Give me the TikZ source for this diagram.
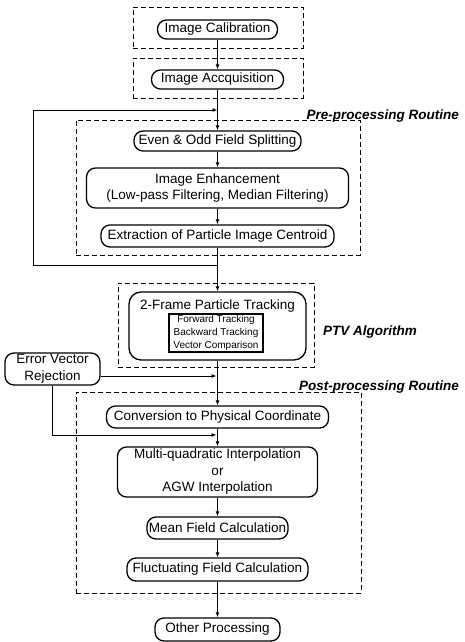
\documentclass[tikz,border=0pt]{standalone}
\usepackage{fontspec}
\setmainfont{Liberation Sans}
\usetikzlibrary{arrows.meta}
\newcommand{\mfs}{\fontsize{13.5}{16.5}\selectfont}
\newcommand{\sfs}{\fontsize{10}{13}\selectfont}
\tikzset{
  proc/.style={draw, line width=1.3pt, rounded corners=9pt, inner sep=0pt, align=center, font=\mfs},
  frame/.style={draw, dash pattern=on 5pt off 3pt, line width=0.9pt, inner sep=0pt},
  inbox/.style={draw, line width=1.3pt, inner sep=0pt, align=center, font=\sfs},
  arr/.style={line width=1pt, -{Latex[length=5pt,width=4pt]}},
  lab/.style={font=\mfs\bfseries\itshape, inner sep=0pt},
  txt/.style={font=\mfs, inner sep=0pt}
}
\begin{document}
\begin{tikzpicture}[x=1pt,y=-1pt]
\useasboundingbox[fill=white] (0,0) rectangle (465,642);
% dashed frames
\node[frame, minimum width=170, minimum height=41] (fr1) at (218,27.5) {};
\node[frame, minimum width=170, minimum height=40] (fr2) at (218,78) {};
\node[frame, minimum width=284, minimum height=135] (frpre) at (218,187.5) {};
\node[frame, minimum width=196, minimum height=84] (frptv) at (216,325) {};
\node[frame, minimum width=285, minimum height=201] (frpost) at (218.5,492.5) {};
% labels
\node[lab, anchor=base east] (lpre) at (459,119.5) {Pre-processing Routine};
\node[lab, anchor=west] (lptv) at (323,332) {PTV Algorithm};
\node[lab, anchor=base east] (lpost) at (459,390.5) {Post-processing Routine};
% process nodes
\node[proc, minimum width=120, minimum height=19] (calib) at (217.5,29.5) {Image Calibration};
\node[proc, minimum width=132, minimum height=19] (acq) at (217.5,79.5) {Image Accquisition};
\node[proc, minimum width=167, minimum height=20] (even) at (217.5,141) {Even \& Odd Field Splitting};
\node[proc, minimum width=262, minimum height=40] (enh) at (217.5,188) {Image Enhancement\\(Low-pass Filtering, Median Filtering)};
\node[proc, minimum width=233, minimum height=22] (extr) at (217.5,236) {Extraction of Particle Image Centroid};
\node[proc, minimum width=177, minimum height=68, rounded corners=12pt] (track) at (217.5,326) {};
\node[txt] (tracktxt) at (217.5,306) {2-Frame Particle Tracking};
\node[inbox, minimum width=94, minimum height=38] (inner) at (216,333) {Forward Tracking\\Backward Tracking\\Vector Comparison};
\node[proc, minimum width=95, minimum height=32] (evr) at (52.5,369) {Error Vector\\Rejection};
\node[proc, minimum width=222, minimum height=22] (conv) at (217.5,417) {Conversion to Physical Coordinate};
\node[proc, minimum width=200, minimum height=50] (multi) at (217.5,472) {Multi-quadratic Interpolation\\or\\AGW Interpolation};
\node[proc, minimum width=141, minimum height=22] (mean) at (217.5,528) {Mean Field Calculation};
\node[proc, minimum width=181, minimum height=23] (fluct) at (217.5,569.5) {Fluctuating Field Calculation};
\node[proc, minimum width=125, minimum height=23] (other) at (217.5,629.5) {Other Processing};
% coordinates
\coordinate (fbtop) at (33,110);
\coordinate (fbbot) at (33,265);
\coordinate (j1) at (216.5,376);
\coordinate (j2) at (216.5,435);
% connectors
\draw[arr] (calib) -- (acq);
\draw[arr] (acq) -- (even);
\draw[arr] (even) -- (enh);
\draw[arr] (enh) -- (extr);
\draw[arr] (extr) -- (track);
\draw[arr] (extr.south |- fbbot) -- (fbbot) -- (fbtop) -- (acq.south |- fbtop);
\draw[arr] (track) -- (conv);
\draw[arr] (evr.east |- j1) -- (j1);
\draw[arr] (evr.south) |- (j2);
\draw[arr] (conv) -- (multi);
\draw[arr] (multi) -- (mean);
\draw[arr] (mean) -- (fluct);
\draw[arr] (fluct) -- (other);
\end{tikzpicture}
\end{document}
